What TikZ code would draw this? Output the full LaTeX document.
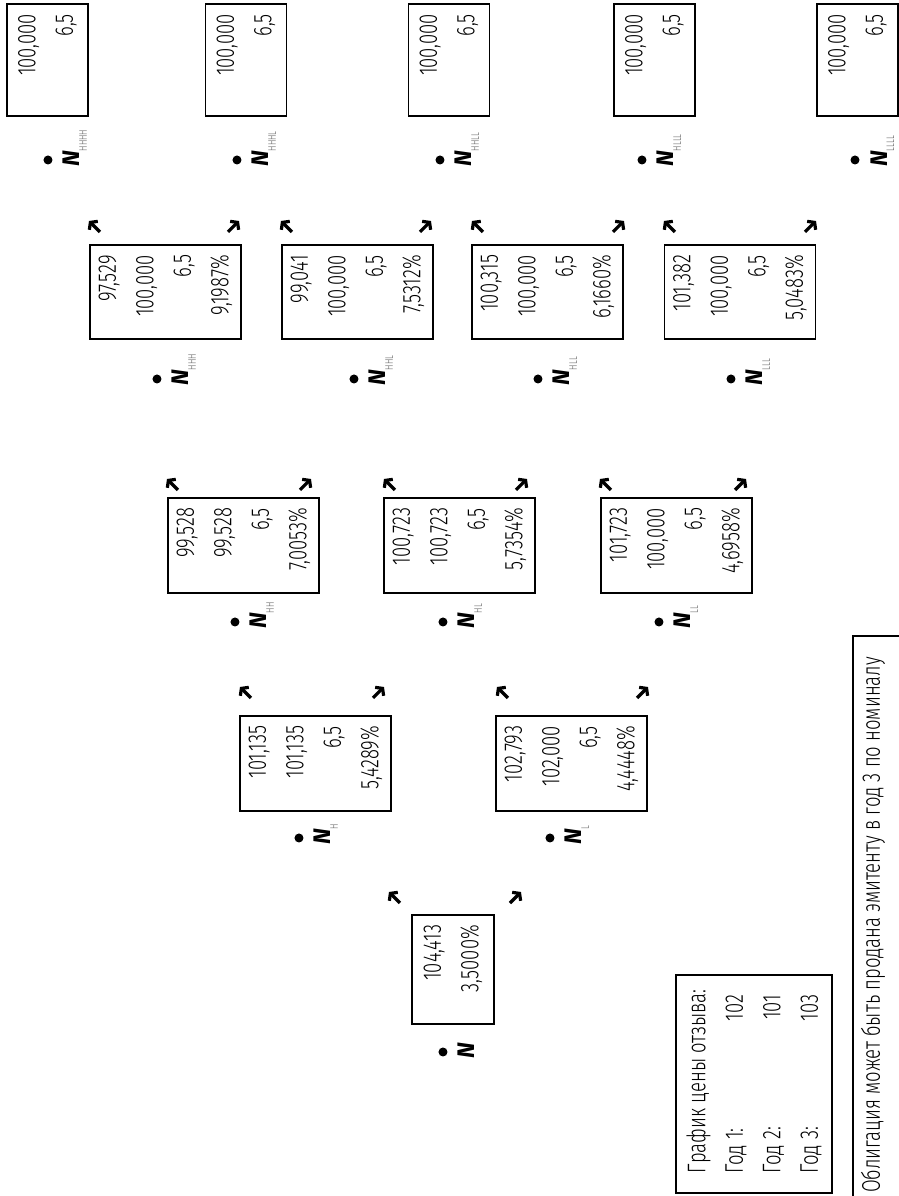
\documentclass[tikz,border=0pt]{standalone}
\usepackage{fontspec}
\setmainfont{Fira Sans}[UprightFont=* Light, FakeStretch=0.725]
\newfontfamily\nfont{Fira Sans}
\usetikzlibrary{arrows.meta}
\newcommand{\Nlab}[1]{{\nfont\bfseries\itshape N}\raisebox{-7pt}{\fontsize{11}{12}\selectfont\color{black!65}#1}}
\tikzset{
  arrglyph/.style={line width=3.2pt, -{Straight Barb[length=4.5pt,width=12pt,line width=3.2pt]}},
  pics/uparr/.style={code={\draw[arrglyph] (-5,-5) -- (6,6);}},
  pics/dnarr/.style={code={\draw[arrglyph] (-5,5) -- (6,-6);}}
}
\begin{document}
\begin{tikzpicture}[x=1pt, y=1pt, rotate=90, transform shape,
  valbox/.style={rectangle, draw, line width=1.2pt, inner xsep=10pt, inner ysep=0pt,
    align=right, font=\fontsize{25.5}{37.5}\selectfont},
  dot/.style={circle, fill, inner sep=0pt, minimum size=9pt},
  nlbl/.style={anchor=base west, inner sep=0pt, font=\fontsize{24}{28}\selectfont},
  lgd/.style={rectangle, draw, line width=1.2pt, align=flush left, font=\fontsize{25.5}{37.5}\selectfont}]
  \useasboundingbox (0,0) rectangle (1196,899);

  % root
  \node[valbox, text width=89pt, minimum height=82pt] (bN) at (226.5,446) {104,413\\3,5000\%};
  \node[dot] (dN) at (144,456) {};
  \node[nlbl] (lN) at (137,424) {\Nlab{}};
  \pic at (298,504) {uparr};
  \pic at (298,384) {dnarr};

  % year 1
  \node[valbox, text width=75pt, minimum height=151pt] (bH) at (432.5,583.5) {101,135\\101,135\\6,5\\5,4289\%};
  \node[valbox, text width=75pt, minimum height=151pt] (bL) at (432.5,327.5) {102,793\\102,000\\6,5\\4,4448\%};
  \node[dot] (dH) at (358,600) {};
  \node[dot] (dL) at (358,349) {};
  \node[nlbl] (lH) at (351,568) {\Nlab{H}};
  \node[nlbl] (lL) at (351,317) {\Nlab{L}};
  \pic at (503,653) {uparr};
  \pic at (503,521) {dnarr};
  \pic at (503,396) {uparr};
  \pic at (503,257) {dnarr};

  % year 2
  \node[valbox, text width=75pt, minimum height=151pt] (bHH) at (650.5,655.5) {99,528\\99,528\\6,5\\7,0053\%};
  \node[valbox, text width=75pt, minimum height=151pt] (bHL) at (650.5,439.5) {100,723\\100,723\\6,5\\5,7354\%};
  \node[valbox, text width=75pt, minimum height=151pt] (bLL) at (650.5,222.5) {101,723\\100,000\\6,5\\4,6958\%};
  \node[dot] (dHH) at (574,664) {};
  \node[dot] (dHL) at (574,456) {};
  \node[dot] (dLL) at (574,240) {};
  \node[nlbl] (lHH) at (567,632) {\Nlab{HH}};
  \node[nlbl] (lHL) at (567,424) {\Nlab{HL}};
  \node[nlbl] (lLL) at (567,208) {\Nlab{LL}};
  \pic at (711,726) {uparr};
  \pic at (711,594) {dnarr};
  \pic at (711,509) {uparr};
  \pic at (711,378) {dnarr};
  \pic at (711,293) {uparr};
  \pic at (711,159) {dnarr};

  % year 3
  \node[valbox, text width=74pt, minimum height=151pt] (bHHH) at (904,733.5) {97,529\\100,000\\6,5\\9,1987\%};
  \node[valbox, text width=74pt, minimum height=151pt] (bHHL) at (904,541.5) {99,041\\100,000\\6,5\\7,5312\%};
  \node[valbox, text width=74pt, minimum height=151pt] (bHLL) at (904,351.5) {100,315\\100,000\\6,5\\6,1660\%};
  \node[valbox, text width=74pt, minimum height=151pt] (bLLL) at (904,159) {101,382\\100,000\\6,5\\5,0483\%};
  \node[dot] (dHHH) at (817,742) {};
  \node[dot] (dHHL) at (817,545) {};
  \node[dot] (dHLL) at (817,361) {};
  \node[dot] (dLLL) at (817,168) {};
  \node[nlbl] (lHHH) at (810,710) {\Nlab{HHH}};
  \node[nlbl] (lHHL) at (810,513) {\Nlab{HHL}};
  \node[nlbl] (lHLL) at (810,329) {\Nlab{HLL}};
  \node[nlbl] (lLLL) at (810,136) {\Nlab{LLL}};
  \pic at (969,804) {uparr};
  \pic at (969,666) {dnarr};
  \pic at (969,612) {uparr};
  \pic at (969,474) {dnarr};
  \pic at (969,421) {uparr};
  \pic at (969,281) {dnarr};
  \pic at (969,229) {uparr};
  \pic at (969,89) {dnarr};

  % year 4
  \node[valbox, text width=92pt, minimum height=81pt] (bHHHH) at (1136,851.5) {100,000\\6,5};
  \node[valbox, text width=92pt, minimum height=81pt] (bHHHL) at (1136,653) {100,000\\6,5};
  \node[valbox, text width=92pt, minimum height=81pt] (bHHLL) at (1136,450) {100,000\\6,5};
  \node[valbox, text width=92pt, minimum height=81pt] (bHLLL) at (1136,244.5) {100,000\\6,5};
  \node[valbox, text width=92pt, minimum height=81pt] (bLLLL) at (1136,41.5) {100,000\\6,5};
  \node[dot] (dHHHH) at (1036,851) {};
  \node[dot] (dHHHL) at (1036,662) {};
  \node[dot] (dHHLL) at (1036,459) {};
  \node[dot] (dHLLL) at (1036,257) {};
  \node[dot] (dLLLL) at (1036,44) {};
  \node[nlbl] (lHHHH) at (1029,819) {\Nlab{HHHH}};
  \node[nlbl] (lHHHL) at (1029,630) {\Nlab{HHHL}};
  \node[nlbl] (lHHLL) at (1029,427) {\Nlab{HHLL}};
  \node[nlbl] (lHLLL) at (1029,225) {\Nlab{HLLL}};
  \node[nlbl] (lLLLL) at (1029,12) {\Nlab{LLLL}};

  % call schedule and note
  \node[lgd, text width=178pt, minimum width=218pt, minimum height=156pt] (legend) at (112,145)
    {\mbox{График цены отзыва:}\\
     Год 1:\hspace{0pt plus 1filll}102\\
     Год 2:\hspace{0pt plus 1filll}101\\
     Год 3:\hspace{0pt plus 1filll}103};
  \node[rectangle, draw, line width=1.2pt, minimum width=590pt, minimum height=76pt] (notebox) at (265,8) {};
  \node[anchor=west, inner sep=0pt, font=\fontsize{25.5}{28}\selectfont] (note) at (3,26)
    {Облигация может быть продана эмитенту в год 3 по номиналу};
\end{tikzpicture}
\end{document}
